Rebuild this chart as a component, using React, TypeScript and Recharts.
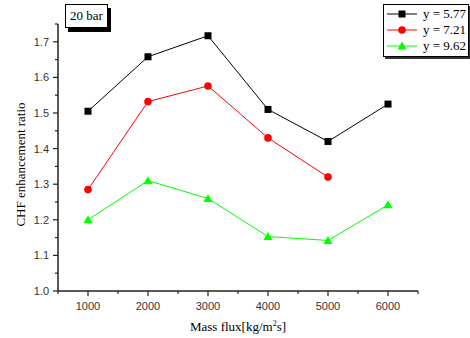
import { LineChart, Line, XAxis, YAxis, Label } from "recharts";

// Mass flux [kg/m2s] at which CHF was measured
const massFlux = [1000, 2000, 3000, 4000, 5000, 6000];

// CHF enhancement ratio per series (null = no measurement)
const ratioY577 = [1.505, 1.658, 1.717, 1.51, 1.42, 1.525];
const ratioY721 = [1.285, 1.532, 1.576, 1.43, 1.32, null];
const ratioY962 = [1.2, 1.31, 1.26, 1.153, 1.142, 1.242];

const seriesNames = ["y = 5.77", "y = 7.21", "y = 9.62"];
const seriesColors = ["#000000", "#ff0000", "#00ff00"];

const xTicks = [500, 1000, 1500, 2000, 2500, 3000, 3500, 4000, 4500, 5000, 5500, 6000, 6500];
const yTicks = [1.0, 1.05, 1.1, 1.15, 1.2, 1.25, 1.3, 1.35, 1.4, 1.45, 1.5, 1.55, 1.6, 1.65, 1.7, 1.75];
const pressureLabel = "20 bar";

const data = massFlux.map((g, i) => ({
    g,
    s1: ratioY577[i],
    s2: ratioY721[i],
    s3: ratioY962[i],
}));

const sans = "'Liberation Sans', Arial, sans-serif";
const serif = "'Liberation Serif', 'Times New Roman', serif";

function isMajorX(v: number) {
    return v % 1000 === 0 && v >= 1000 && v <= 6000;
}

function isMajorY(v: number) {
    return Math.round(v * 100) % 10 === 0 && v <= 1.7;
}

function XTick(props: any) {
    const { x, y, payload } = props;
    const major = isMajorX(payload.value);
    return (
        <g>
            <line x1={x} y1={y} x2={x} y2={y + (major ? 5 : 3)} stroke="#222" strokeWidth={1.2} />
            {major && (
                <text x={x} y={y + 19} textAnchor="middle" fontSize={11} fontFamily={sans} fill="#333">
                    {payload.value}
                </text>
            )}
        </g>
    );
}

function YTick(props: any) {
    const { x, y, payload } = props;
    const major = isMajorY(payload.value);
    return (
        <g>
            <line x1={x} y1={y} x2={x - (major ? 5 : 3)} y2={y} stroke="#222" strokeWidth={1.2} />
            {major && (
                <text x={x - 9} y={y + 4} textAnchor="end" fontSize={11} fontFamily={sans} fill="#333">
                    {payload.value.toFixed(1)}
                </text>
            )}
        </g>
    );
}

function Marker({ kind, cx, cy, color }: { kind: number; cx: number; cy: number; color: string }) {
    if (kind === 0) return <rect x={cx - 3.5} y={cy - 3.5} width={7} height={7} fill={color} />;
    if (kind === 1) return <circle cx={cx} cy={cy} r={3.8} fill={color} />;
    return <polygon points={`${cx},${cy - 4.5} ${cx + 4.5},${cy + 3.5} ${cx - 4.5},${cy + 3.5}`} fill={color} />;
}

const makeDot = (kind: number) => (props: any) => {
    const { cx, cy, value, index } = props;
    if (value == null || cy == null) return <g key={`d${kind}-${index}`} />;
    return (
        <g key={`d${kind}-${index}`}>
            <Marker kind={kind} cx={cx} cy={cy} color={seriesColors[kind]} />
        </g>
    );
};

function LegendBox() {
    return (
        <div
            style={{
                position: "absolute",
                left: 383,
                top: 4,
                border: "1px solid #000",
                boxShadow: "2px 2px 0 #333",
                background: "#fff",
                padding: "1px 2px 2px 3px",
                width: 79,
            }}
        >
            {seriesNames.map((name, i) => (
                <div key={name} style={{ display: "flex", alignItems: "center", height: 16 }}>
                    <svg width={32} height={12}>
                        <line x1={0} y1={6} x2={30} y2={6} stroke={seriesColors[i]} strokeWidth={1} />
                        <Marker kind={i} cx={15} cy={6} color={seriesColors[i]} />
                    </svg>
                    <span style={{ fontFamily: serif, fontSize: 13, color: "#000", marginLeft: 6, whiteSpace: "nowrap" }}>
                        {name}
                    </span>
                </div>
            ))}
        </div>
    );
}

export default function App() {
    return (
        <div style={{ position: "absolute", left: 0, top: 0, width: 470, height: 338, background: "#fff" }}>
            <LineChart width={470} height={338} data={data} margin={{ top: 24, right: 52, bottom: 0, left: 0 }}>
                <XAxis
                    dataKey="g"
                    type="number"
                    domain={[500, 6500]}
                    ticks={xTicks}
                    interval={0}
                    tickSize={0}
                    tickMargin={0}
                    tickLine={false}
                    tick={<XTick />}
                    height={47}
                    axisLine={{ stroke: "#222", strokeWidth: 1.5 }}
                >
                    <Label
                        content={(p: any) => {
                            const vb = p.viewBox;
                            return (
                                <text x={vb.x + vb.width / 2} y={vb.y + 40} textAnchor="middle" fontFamily={serif} fontSize={13} fill="#000">
                                    Mass flux[kg/m<tspan fontSize={8} dy={-5}>2</tspan>
                                    <tspan dy={5}>s]</tspan>
                                </text>
                            );
                        }}
                    />
                </XAxis>
                <YAxis
                    type="number"
                    domain={[1.0, 1.75]}
                    ticks={yTicks}
                    interval={0}
                    width={58}
                    tickSize={0}
                    tickMargin={0}
                    tickLine={false}
                    tick={<YTick />}
                    axisLine={{ stroke: "#222", strokeWidth: 1.5 }}
                >
                    <Label
                        content={(p: any) => {
                            const vb = p.viewBox;
                            const cy = vb.y + vb.height / 2 + 7;
                            return (
                                <text
                                    x={20}
                                    y={cy}
                                    transform={`rotate(-90, 20, ${cy})`}
                                    textAnchor="middle"
                                    dominantBaseline="central"
                                    fontFamily={serif}
                                    fontSize={13}
                                    fill="#000"
                                >
                                    CHF enhancement ratio
                                </text>
                            );
                        }}
                    />
                </YAxis>
                <Line dataKey="s1" name={seriesNames[0]} stroke={seriesColors[0]} strokeWidth={1} dot={makeDot(0)} isAnimationActive={false} />
                <Line dataKey="s2" name={seriesNames[1]} stroke={seriesColors[1]} strokeWidth={1} dot={makeDot(1)} isAnimationActive={false} />
                <Line dataKey="s3" name={seriesNames[2]} stroke={seriesColors[2]} strokeWidth={1} dot={makeDot(2)} isAnimationActive={false} />
            </LineChart>
            <LegendBox />
            <div
                style={{
                    position: "absolute",
                    left: 65,
                    top: 4,
                    width: 41,
                    height: 22,
                    border: "1px solid #000",
                    boxShadow: "3px 4px 0 #000",
                    background: "#fff",
                    fontFamily: serif,
                    fontSize: 13,
                    lineHeight: "22px",
                    textAlign: "center",
                }}
            >
                {pressureLabel}
            </div>
        </div>
    );
}
